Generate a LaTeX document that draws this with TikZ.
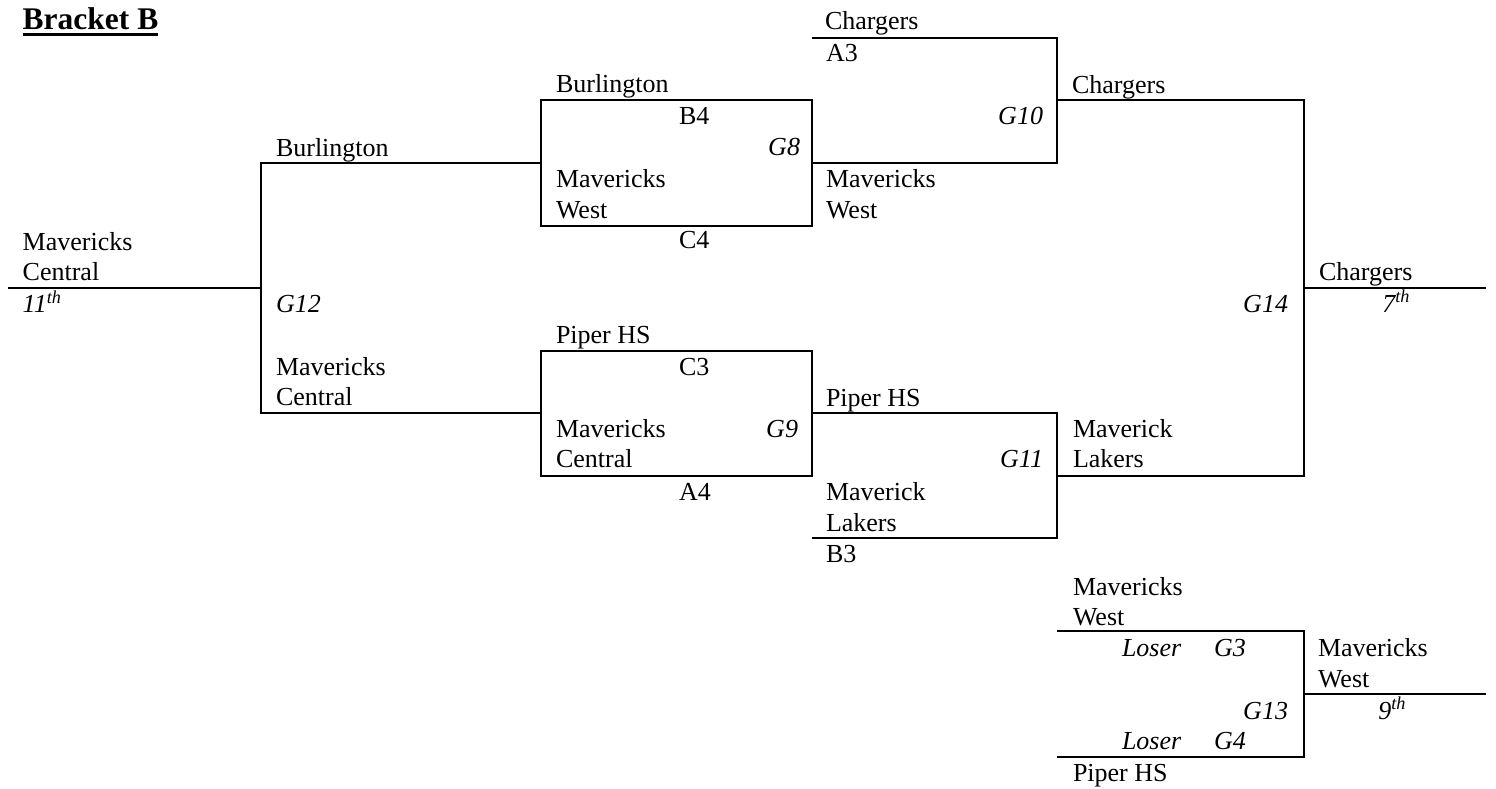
\documentclass[tikz,border=0pt]{standalone}
\usepackage{fontspec}
\setmainfont{Liberation Serif}
\begin{document}
\begin{tikzpicture}[x=1pt,y=-1pt,
  ln/.style={line width=2.9pt, line join=miter},
  txt/.style={inner sep=0pt, outer sep=0pt, anchor=base west, font=\fontsize{26}{30}\selectfont},
  txtr/.style={txt, anchor=base east},
  it/.style={font=\fontsize{26}{30}\selectfont\itshape},
  ttl/.style={inner sep=0pt, outer sep=0pt, anchor=base west, font=\fontsize{31.5}{36}\selectfont\bfseries}]
\useasboundingbox (0,0) rectangle (1496,788);

% ---- coordinates of the bracket lines ----
\coordinate (a1) at (8,288);
\coordinate (a2) at (261,288);
\coordinate (b1) at (541,163);
\coordinate (b2) at (261,163);
\coordinate (b3) at (261,413);
\coordinate (b4) at (541,413);
\coordinate (g8nw) at (541,100);
\coordinate (g8se) at (812,226);
\coordinate (g8e) at (812,163);
\coordinate (g10a) at (812,38);
\coordinate (g10b) at (1057,38);
\coordinate (g10c) at (1057,163);
\coordinate (g9nw) at (541,351);
\coordinate (g9se) at (812,476);
\coordinate (g9e) at (812,413);
\coordinate (g11b) at (1057,413);
\coordinate (g11c) at (1057,538);
\coordinate (g11d) at (812,538);
\coordinate (g14a) at (1057,100);
\coordinate (g14b) at (1304,100);
\coordinate (g14c) at (1304,476);
\coordinate (g14d) at (1057,476);
\coordinate (r1) at (1304,288);
\coordinate (r2) at (1486,288);
\coordinate (g13a) at (1057,631);
\coordinate (g13b) at (1304,631);
\coordinate (g13c) at (1304,757);
\coordinate (g13d) at (1057,757);
\coordinate (s1) at (1304,694);
\coordinate (s2) at (1486,694);

% ---- lines ----
\draw[ln] (a1) -- (a2);
\draw[ln] (b1) -- (b2) -- (b3) -- (b4);
\draw[ln] (g8nw) rectangle (g8se);
\draw[ln] (g10a) -- (g10b) -- (g10c) -- (g8e);
\draw[ln] (g9nw) rectangle (g9se);
\draw[ln] (g9e) -- (g11b) -- (g11c) -- (g11d);
\draw[ln] (g14a) -- (g14b) -- (g14c) -- (g14d);
\draw[ln] (r1) -- (r2);
\draw[ln] (g13a) -- (g13b) -- (g13c) -- (g13d);
\draw[ln] (s1) -- (s2);

% ---- title ----
\node[ttl] (title) at (22.7,29) {Bracket B};
\draw[line width=2.9pt] ([yshift=-5.6pt]title.base west) -- ([yshift=-5.6pt]title.base east);

% ---- left / G12 ----
\node[txt] (t1) at (22.7,250) {Mavericks};
\node[txt] (t2) at (22.7,280.7) {Central};
\node[txt,it] (t3) at (22.7,312.7) {11\textsuperscript{th}};
\node[txt] (t4) at (276,156) {Burlington};
\node[txt,it] (t5) at (276,312) {G12};
\node[txt] (t6) at (276,375) {Mavericks};
\node[txt] (t7) at (276,405.7) {Central};

% ---- G8 ----
\node[txt] (t8) at (556,92) {Burlington};
\node[txt] (t9) at (679,124.3) {B4};
\node[txtr,it] (t10) at (800,155) {G8};
\node[txt] (t11) at (556,187.7) {Mavericks};
\node[txt] (t12) at (556,218.3) {West};
\node[txt] (t13) at (679,248) {C4};

% ---- G10 ----
\node[txt] (t14) at (825,29.3) {Chargers};
\node[txt] (t15) at (826,61.7) {A3};
\node[txtr,it] (t16) at (1043,124.3) {G10};
\node[txt] (t17) at (826,187.7) {Mavericks};
\node[txt] (t18) at (826,218.3) {West};

% ---- G14 ----
\node[txt] (t19) at (1072,93) {Chargers};
\node[txtr,it] (t20) at (1288,312) {G14};
\node[txt] (t21) at (1319,280) {Chargers};
\node[txtr,it] (t22) at (1410,312) {7\textsuperscript{th}};

% ---- G9 ----
\node[txt] (t23) at (556,343.3) {Piper HS};
\node[txt] (t24) at (679,375) {C3};
\node[txt] (t25) at (556,437.7) {Mavericks};
\node[txtr,it] (t26) at (798,437.7) {G9};
\node[txt] (t27) at (556,467.7) {Central};
\node[txt] (t28) at (679,500) {A4};

% ---- G11 ----
\node[txt] (t29) at (826,406) {Piper HS};
\node[txtr,it] (t30) at (1043,467.7) {G11};
\node[txt] (t31) at (826,500) {Maverick};
\node[txt] (t32) at (826,531.7) {Lakers};
\node[txt] (t33) at (826,562.3) {B3};
\node[txt] (t34) at (1073,437.7) {Maverick};
\node[txt] (t35) at (1073,467.7) {Lakers};

% ---- G13 ----
\node[txt] (t36) at (1073,595) {Mavericks};
\node[txt] (t37) at (1073,625) {West};
\node[txt,it] (t38) at (1122,656.7) {Loser};
\node[txt,it] (t39) at (1214,656.7) {G3};
\node[txt] (t40) at (1318,656.7) {Mavericks};
\node[txt] (t41) at (1318,687.7) {West};
\node[txtr,it] (t42) at (1288,719) {G13};
\node[txtr,it] (t43) at (1406,719) {9\textsuperscript{th}};
\node[txt,it] (t44) at (1122,749.3) {Loser};
\node[txt,it] (t45) at (1214,749.3) {G4};
\node[txt] (t46) at (1073,781.7) {Piper HS};
\end{tikzpicture}
\end{document}
